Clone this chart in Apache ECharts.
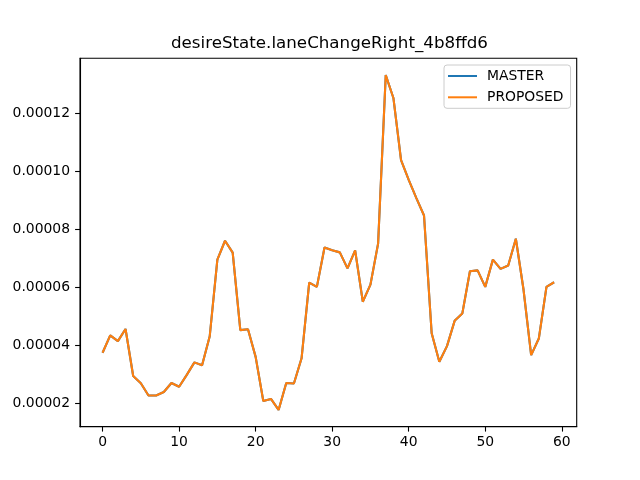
<!DOCTYPE html>
<html>
<head>
<meta charset="utf-8">
<script src="https://cdn.jsdelivr.net/npm/echarts@6/dist/echarts.min.js"></script>
<style>
html,body{margin:0;padding:0;background:#fff;}
#chart{width:640px;height:480px;}
</style>
</head>
<body>
<div id="chart"></div>
<script>
const titleText = "desireState.laneChangeRight_4b8ffd6";
const seriesNames = ["MASTER", "PROPOSED"];
const xValues = [];
for (let i = 0; i < 60; i++) xValues.push(i);
const masterValues = [
  3.74e-5, 4.34e-5, 4.14e-5, 4.56e-5, 2.94e-5, 2.69e-5, 2.27e-5, 2.27e-5, 2.39e-5, 2.70e-5,
  2.57e-5, 2.98e-5, 3.41e-5, 3.31e-5, 4.31e-5, 6.95e-5, 7.60e-5, 7.19e-5, 4.52e-5, 4.55e-5,
  3.60e-5, 2.08e-5, 2.15e-5, 1.77e-5, 2.70e-5, 2.68e-5, 3.55e-5, 6.16e-5, 6.01e-5, 7.37e-5,
  7.27e-5, 7.20e-5, 6.65e-5, 7.27e-5, 5.50e-5, 6.09e-5, 7.50e-5, 13.31e-5, 12.52e-5, 10.38e-5,
  9.70e-5, 9.07e-5, 8.47e-5, 4.41e-5, 3.43e-5, 3.97e-5, 4.84e-5, 5.09e-5, 6.55e-5, 6.58e-5,
  6.01e-5, 6.95e-5, 6.63e-5, 6.75e-5, 7.67e-5, 5.92e-5, 3.66e-5, 4.23e-5, 6.01e-5, 6.17e-5
];
const proposedValues = masterValues.slice();
const xTicks = [0, 10, 20, 30, 40, 50, 60];
const yTicks = [2e-5, 4e-5, 6e-5, 8e-5, 10e-5, 12e-5];

const xSpan = xValues[xValues.length - 1] - xValues[0];
const xMin = xValues[0] - 0.05 * xSpan;
const xMax = xValues[xValues.length - 1] + 0.05 * xSpan;
const allY = masterValues.concat(proposedValues);
const yLo = Math.min(...allY), yHi = Math.max(...allY);
const yMin = yLo - 0.05 * (yHi - yLo);
const yMax = yHi + 0.05 * (yHi - yLo);

const font = 'DejaVu Sans';
const chart = echarts.init(document.getElementById('chart'), null, {renderer: 'canvas'});
chart.setOption({
  animation: false,
  backgroundColor: '#fff',
  title: {
    text: titleText,
    left: 171,
    top: 35,
    padding: 0,
    textStyle: {fontFamily: font, fontSize: 16.7, fontWeight: 'normal', color: '#000'}
  },
  legend: {
    orient: 'vertical',
    left: 444,
    top: 65,
    padding: [4, 7, 4, 4],
    itemGap: 7.3,
    itemWidth: 29,
    itemHeight: 2,
    icon: 'rect',
    backgroundColor: 'rgba(255,255,255,0.8)',
    borderColor: '#cccccc',
    borderWidth: 1,
    borderRadius: 3,
    textStyle: {fontFamily: font, fontSize: 13.9, color: '#000', padding: [0, 0, 0, 5]},
    data: seriesNames
  },
  grid: {
    left: 80, right: 63.3, top: 58.3, bottom: 53.3,
    show: true, borderColor: '#000', borderWidth: 1.1, backgroundColor: 'transparent'
  },
  xAxis: {
    type: 'value',
    min: xMin, max: xMax,
    splitLine: {show: false},
    axisLine: {show: true, onZero: false, lineStyle: {color: '#000', width: 1.1}},
    axisTick: {show: true, length: 4.9, customValues: xTicks, lineStyle: {color: '#000', width: 1.1}},
    axisLabel: {customValues: xTicks, margin: 9, fontFamily: font, fontSize: 13.9, color: '#000',
      formatter: v => String(Math.round(v))}
  },
  yAxis: {
    type: 'value',
    min: yMin, max: yMax,
    splitLine: {show: false},
    axisLine: {show: true, onZero: false, lineStyle: {color: '#000', width: 1.1}},
    axisTick: {show: true, length: 4.9, customValues: yTicks, lineStyle: {color: '#000', width: 1.1}},
    axisLabel: {customValues: yTicks, margin: 10, fontFamily: font, fontSize: 13.9, color: '#000',
      formatter: v => v.toFixed(5)}
  },
  series: [
    {
      name: seriesNames[0], type: 'line', showSymbol: false, symbol: 'none',
      color: '#1f77b4', lineStyle: {width: 2.1, color: '#1f77b4'},
      data: xValues.map((x, i) => [x, masterValues[i]])
    },
    {
      name: seriesNames[1], type: 'line', showSymbol: false, symbol: 'none',
      color: '#ff7f0e', lineStyle: {width: 2.1, color: '#ff7f0e'},
      data: xValues.map((x, i) => [x, proposedValues[i]])
    }
  ]
});
</script>
</body>
</html>
